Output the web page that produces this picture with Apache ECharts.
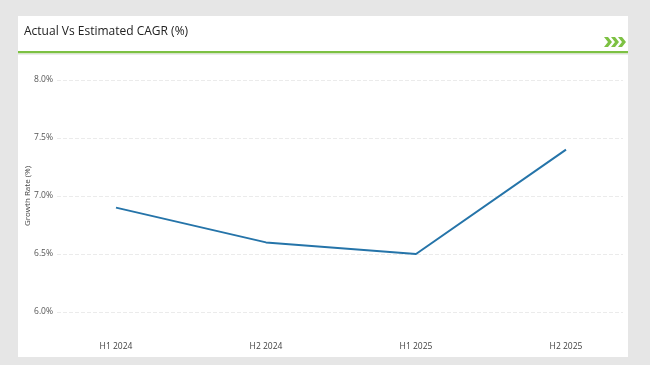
<!DOCTYPE html>
<html><head><meta charset="utf-8">
<script src="https://cdn.jsdelivr.net/npm/echarts@6/dist/echarts.min.js"></script>
<style>html,body{margin:0;padding:0;background:#e6e6e6}#c{width:650px;height:365px}</style>
</head><body><div id="c"></div>
<script>
const categories = ['H1 2024', 'H2 2024', 'H1 2025', 'H2 2025'];
const growthRate = [6.9, 6.6, 6.5, 7.4];
const yMin = 6.0, yMax = 8.0, yStep = 0.5;
const title = 'Actual Vs Estimated CAGR (%)';
const yName = 'Growth Rate (%)';

const chart = echarts.init(document.getElementById('c'), null, {renderer: 'canvas'});
const font = '"Open Sans", "Noto Sans", sans-serif';
const green = '#7dc143';
function chevron(x) {
  return {type: 'polygon', z: 10, shape: {points: [[x,37],[x+4,37],[x+8,42],[x+4,47],[x,47],[x+4,42]]}, style: {fill: green}};
}
chart.setOption({
  backgroundColor: '#e6e6e6',
  animation: false,
  graphic: [
    {type: 'rect', z: -10, shape: {x: 18, y: 16, width: 610, height: 341}, style: {fill: '#ffffff'}},
    {type: 'rect', z: -9, shape: {x: 18, y: 51, width: 610, height: 2.5}, style: {fill: green}},
    {type: 'rect', z: -9, shape: {x: 18, y: 53.5, width: 610, height: 1.5}, style: {fill: '#ececec'}},
    {type: 'text', z: 10, left: 24, top: 26, style: {text: title, font: '12px ' + font, fill: '#222'}},
    chevron(604), chevron(611), chevron(618)
  ],
  grid: [
    {left: 57, right: 27, top: 80, bottom: 53},
    {left: 116, right: 84, top: 80, bottom: 53}
  ],
  xAxis: [
    {gridIndex: 0, type: 'category', data: categories, show: false},
    {gridIndex: 1, type: 'category', data: categories, boundaryGap: false,
     axisLine: {show: false}, axisTick: {show: false},
     axisLabel: {margin: 30, fontSize: 8.5, color: '#444', fontFamily: font}}
  ],
  yAxis: [
    {gridIndex: 0, type: 'value', min: yMin, max: yMax, interval: yStep,
     name: yName, nameLocation: 'middle', nameGap: 25, nameRotate: 90, nameMoveOverlap: false,
     nameTextStyle: {fontSize: 8, color: '#444', fontFamily: font},
     axisLine: {show: false}, axisTick: {show: false},
     axisLabel: {fontSize: 8.5, color: '#555', fontFamily: font, margin: 4,
       formatter: v => v.toFixed(1) + '%'},
     splitLine: {lineStyle: {color: '#ebebeb', type: 'dashed', width: 1}}},
    {gridIndex: 1, type: 'value', min: yMin, max: yMax, interval: yStep, show: false}
  ],
  series: [{
    type: 'line', xAxisIndex: 1, yAxisIndex: 1, data: growthRate,
    showSymbol: false, symbol: 'none',
    lineStyle: {color: '#2574a9', width: 2}
  }]
});
</script></body></html>
